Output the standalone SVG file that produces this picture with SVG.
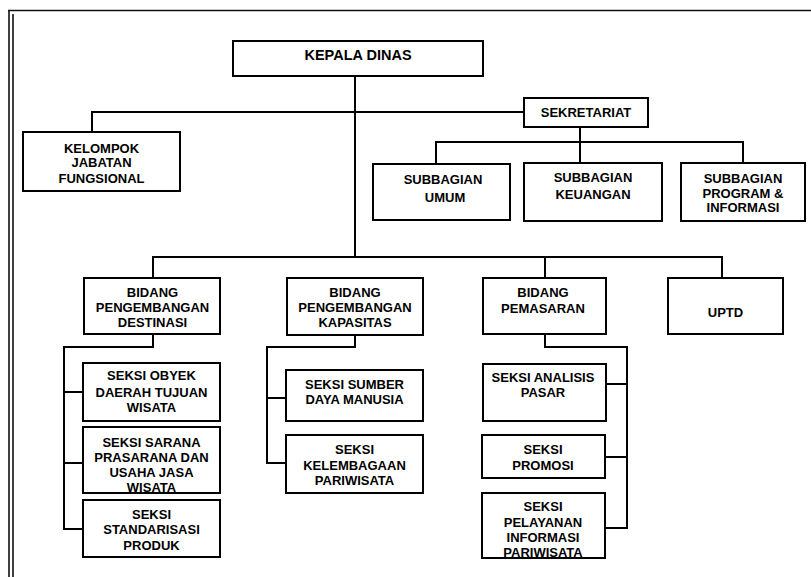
<svg xmlns="http://www.w3.org/2000/svg" width="811" height="577" viewBox="0 0 811 577">
<style>
.box{fill:#fff;stroke:#000;stroke-width:2}
.ln{fill:none;stroke:#000;stroke-width:2}
.fr{fill:none;stroke:#111;stroke-width:1.6}
text{font-family:"Liberation Sans",Arial,sans-serif;font-weight:bold;font-size:13px;text-anchor:middle;fill:#000}
.big{font-size:14.5px}
</style>
<rect width="811" height="577" fill="#fff"/>
<g id="frame">
<line class="fr" x1="8" y1="10.5" x2="811" y2="10.5"/>
<line class="fr" x1="9" y1="10" x2="9" y2="577"/>
<line class="fr" x1="13" y1="14" x2="13" y2="577"/>
</g>
<g id="connectors">
<polyline class="ln" points="355,76 355,257"/>
<polyline class="ln" points="92,132 92,112 524,112"/>
<polyline class="ln" points="580,127 580,163"/>
<polyline class="ln" points="436,164 436,142 743,142 743,163"/>
<polyline class="ln" points="153,278 153,257 722,257 722,278"/>
<polyline class="ln" points="545,257 545,278"/>
<polyline class="ln" points="153,334 153,347 64,347 64,529 83,529"/>
<polyline class="ln" points="64,392 83,392"/>
<polyline class="ln" points="64,463 83,463"/>
<polyline class="ln" points="355,335 355,347 267,347 267,463 286,463"/>
<polyline class="ln" points="267,398 286,398"/>
<polyline class="ln" points="545,334 545,347 627,347 627,528 605,528"/>
<polyline class="ln" points="606,384 627,384"/>
<polyline class="ln" points="605,457 627,457"/>
</g>
<g id="kepala-dinas"><rect class="box" x="233" y="41" width="250" height="35"/><text class="big" x="358" y="60">KEPALA DINAS</text></g>
<g id="sekretariat"><rect class="box" x="524" y="98" width="124" height="29"/><text x="586" y="117">SEKRETARIAT</text></g>
<g id="kelompok"><rect class="box" x="23" y="132" width="157" height="59"/><text x="101.5" y="153">KELOMPOK</text><text x="101.5" y="167">JABATAN</text><text x="101.5" y="183">FUNGSIONAL</text></g>
<g id="subbagian-umum"><rect class="box" x="373" y="164" width="137" height="56"/><text x="443" y="184">SUBBAGIAN</text><text x="445" y="202">UMUM</text></g>
<g id="subbagian-keuangan"><rect class="box" x="524" y="163" width="138" height="58"/><text x="593" y="182">SUBBAGIAN</text><text x="593" y="199">KEUANGAN</text></g>
<g id="subbagian-program"><rect class="box" x="681" y="163" width="124" height="58"/><text x="743" y="182.5">SUBBAGIAN</text><text x="743" y="197.5">PROGRAM &amp;</text><text x="743" y="211.5">INFORMASI</text></g>
<g id="bidang-destinasi"><rect class="box" x="84" y="278" width="136" height="56"/><text x="152.5" y="296.5">BIDANG</text><text x="152.5" y="311.5">PENGEMBANGAN</text><text x="152.5" y="326.5">DESTINASI</text></g>
<g id="bidang-kapasitas"><rect class="box" x="287" y="278" width="136" height="57"/><text x="355" y="296.5">BIDANG</text><text x="355" y="311.5">PENGEMBANGAN</text><text x="355" y="326.5">KAPASITAS</text></g>
<g id="bidang-pemasaran"><rect class="box" x="483" y="278" width="123" height="56"/><text x="543" y="296.5">BIDANG</text><text x="543" y="312.5">PEMASARAN</text></g>
<g id="uptd"><rect class="box" x="668" y="278" width="115" height="56"/><text x="725.5" y="316.5">UPTD</text></g>
<g id="seksi-obyek"><rect class="box" x="83" y="363" width="137" height="58"/><text x="151.5" y="379.5">SEKSI OBYEK</text><text x="151.5" y="396.5">DAERAH TUJUAN</text><text x="151.5" y="411.5">WISATA</text></g>
<g id="seksi-sarana"><rect class="box" x="83" y="427" width="137" height="66"/><text x="151.5" y="446.5">SEKSI SARANA</text><text x="151.5" y="461.5">PRASARANA DAN</text><text x="151.5" y="476.5">USAHA JASA</text><text x="151.5" y="491.5">WISATA</text></g>
<g id="seksi-standarisasi"><rect class="box" x="83" y="500" width="137" height="57"/><text x="151.5" y="518.5">SEKSI</text><text x="151.5" y="533.5">STANDARISASI</text><text x="151.5" y="549.5">PRODUK</text></g>
<g id="seksi-sumber"><rect class="box" x="286" y="370" width="137" height="51"/><text x="354.5" y="388.5">SEKSI SUMBER</text><text x="354.5" y="403.5">DAYA MANUSIA</text></g>
<g id="seksi-kelembagaan"><rect class="box" x="286" y="435" width="137" height="58"/><text x="354.5" y="453.5">SEKSI</text><text x="354.5" y="469.5">KELEMBAGAAN</text><text x="354.5" y="484.5">PARIWISATA</text></g>
<g id="seksi-analisis"><rect class="box" x="483" y="364" width="123" height="57"/><text x="543" y="381.5">SEKSI ANALISIS</text><text x="543" y="396.5">PASAR</text></g>
<g id="seksi-promosi"><rect class="box" x="482" y="435" width="123" height="43"/><text x="543" y="453.5">SEKSI</text><text x="543" y="469.5">PROMOSI</text></g>
<g id="seksi-pelayanan"><rect class="box" x="482" y="493" width="123" height="65"/><text x="543" y="510.5">SEKSI</text><text x="543" y="526.5">PELAYANAN</text><text x="543" y="541.5">INFORMASI</text><text x="543" y="556.5">PARIWISATA</text></g>
</svg>
